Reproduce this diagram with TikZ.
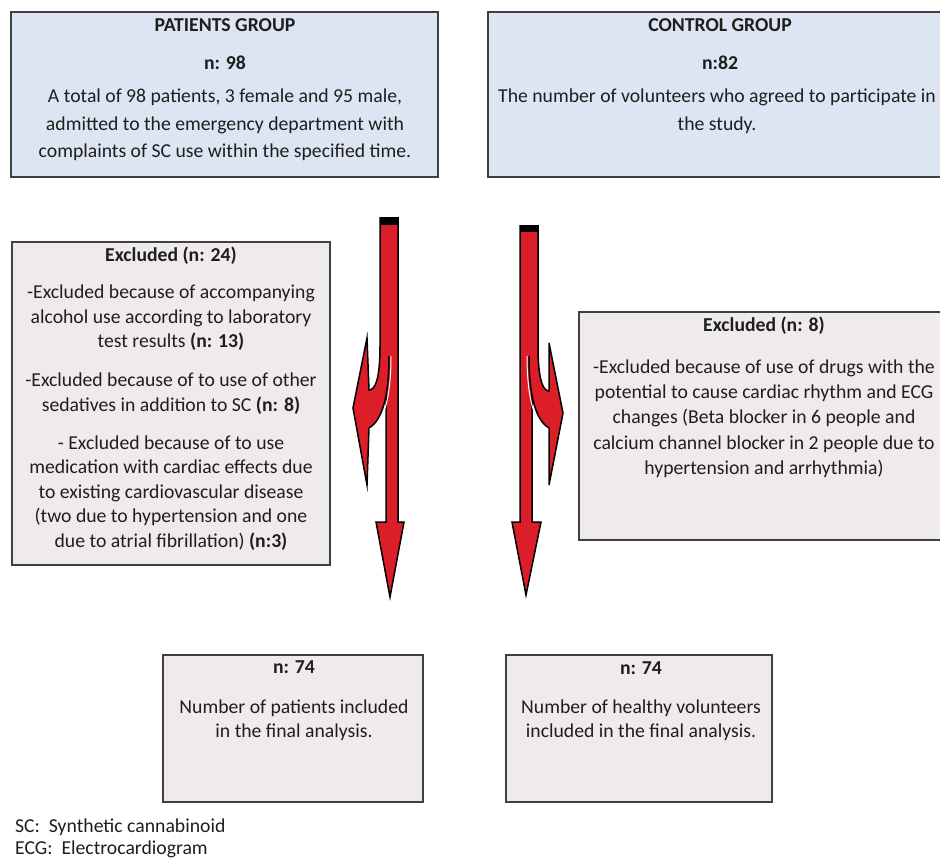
\documentclass[tikz,border=0pt]{standalone}
\usepackage{fontspec}
\setmainfont{Carlito}
\definecolor{bluebox}{RGB}{220,229,241}
\definecolor{greybox}{RGB}{239,235,235}
\definecolor{boxline}{RGB}{64,64,64}
\definecolor{txtcol}{RGB}{30,30,30}
\definecolor{arrowred}{RGB}{220,30,40}
\begin{document}
\begin{tikzpicture}[x=1pt,y=-1pt,
  panel/.style={draw=boxline, line width=1.4pt, inner sep=0pt, rectangle},
  bluepanel/.style={panel, fill=bluebox},
  greypanel/.style={panel, fill=greybox},
  lbl/.style={font=\fontsize{19.7}{24.5}\selectfont, text=txtcol, align=center, inner sep=0pt},
  lblwide/.style={lbl, font=\fontsize{19.7}{27.5}\selectfont},
  lblmid/.style={lbl, font=\fontsize{19.7}{25.3}\selectfont},
  ttl/.style={lbl, font=\fontsize{19.7}{24.5}\selectfont\bfseries},
  redarrow/.style={fill=arrowred},
  arrowedge/.style={draw=black, line width=1.5pt, line join=miter},
]
\useasboundingbox (0,0) rectangle (940,861);
\clip (0,0) rectangle (940,861);
\fill[white] (0,0) rectangle (940,861);

% ---------- boxes ----------
\node[bluepanel, minimum width=427pt, minimum height=165pt] (pat) at (224.5,94.5) {};
\node[bluepanel, minimum width=464pt, minimum height=165pt] (ctl) at (720,94.5) {};
\node[greypanel, minimum width=318pt, minimum height=323pt] (exl) at (171,403.5) {};
\node[greypanel, minimum width=371pt, minimum height=228pt] (exr) at (764.5,426) {};
\node[greypanel, minimum width=260pt, minimum height=147pt] (finl) at (293,728.5) {};
\node[greypanel, minimum width=266pt, minimum height=147pt] (finr) at (639,728.5) {};

% ---------- texts: patients ----------
\node[ttl] (patT) at (225,25) {PATIENTS GROUP};
\node[ttl] (patN) at (225,63) {n: 98};
\node[lblwide] (patP) at (225,125) {A total of 98 patients, 3 female and 95 male,\\admitted to the emergency department with\\complaints of SC use within the specified time.};

% ---------- texts: control ----------
\node[ttl] (ctlT) at (720,25) {CONTROL GROUP};
\node[ttl] (ctlN) at (720,63) {n:82};
\node[lblwide] (ctlP) at (717,111) {The number of volunteers who agreed to participate in\\the study.};

% ---------- texts: excluded left ----------
\node[ttl] (exlT) at (171,256) {Excluded (n: 24)};
\node[lbl] (exlA) at (171,318) {-Excluded because of accompanying\\alcohol use according to laboratory\\test results \textbf{(n: 13)}};
\node[lbl] (exlB) at (171,393.5) {-Excluded because of to use of other\\sedatives in addition to SC \textbf{(n: 8)}};
\node[lbl] (exlC) at (171,493) {- Excluded because of to use\\medication with cardiac effects due\\to existing cardiovascular disease\\(two due to hypertension and one\\due to atrial fibrillation) \textbf{(n:3)}};

% ---------- texts: excluded right ----------
\node[ttl] (exrT) at (764,326) {Excluded (n: 8)};
\node[lblmid] (exrP) at (764,418.5) {-Excluded because of use of drugs with the\\potential to cause cardiac rhythm and ECG\\changes (Beta blocker in 6 people and\\calcium channel blocker in 2 people due to\\hypertension and arrhythmia)};

% ---------- texts: final ----------
\node[ttl] (finlN) at (294,667) {n: 74};
\node[lbl] (finlP) at (294,720) {Number of patients included\\in the final analysis.};
\node[ttl] (finrN) at (641,668) {n: 74};
\node[lbl] (finrP) at (641,720) {Number of healthy volunteers\\included in the final analysis.};

% ---------- footnotes ----------
\node[lbl, anchor=west] (fn1) at (15,827) {SC:\ \ Synthetic cannabinoid};
\node[lbl, anchor=west] (fn2) at (15,849) {ECG:\ \ Electrocardiogram};

% ---------- left split arrow ----------
\path[redarrow] (380,218) -- (398,218) -- (398,522) -- (404,522) -- (390,597) -- (376,522) -- (386,522) -- (386,360) -- (380,350) -- cycle;
\draw[arrowedge] (380,218) -- (398,218) -- (398,522) -- (404,522) -- (390,597) -- (376,522) -- (386,522) -- (386,360) -- (380,350) -- cycle;
\fill[black] (380,218) rectangle (398,225);
\path[redarrow] (380,346) .. controls (380,380) and (375,390) .. (369,390) -- (367,338) -- (353,408) -- (367,485) -- (369,428) .. controls (381,421) and (389,400) .. (389,346) -- cycle;
\draw[arrowedge] (380,346) .. controls (380,380) and (375,390) .. (369,390) -- (367,338) -- (353,408) -- (367,485) -- (369,428) .. controls (381,421) and (389,400) .. (389,356);
\draw[white, line width=1pt] (370,432) .. controls (382,425) and (391,402) .. (391,356);

% ---------- right split arrow ----------
\path[redarrow] (520,226) -- (538,226) -- (538,350) -- (532,360) -- (532,522) -- (541,522) -- (526,595) -- (512,522) -- (520,522) -- cycle;
\draw[arrowedge] (520,226) -- (538,226) -- (538,350) -- (532,360) -- (532,522) -- (541,522) -- (526,595) -- (512,522) -- (520,522) -- cycle;
\fill[black] (520,226) rectangle (538,232);
\path[redarrow] (538,346) .. controls (538,380) and (543,391) .. (549,391) -- (549,343) -- (563,413) -- (549,485) -- (549,428) .. controls (537,421) and (529,400) .. (529,346) -- cycle;
\draw[arrowedge] (538,346) .. controls (538,380) and (543,391) .. (549,391) -- (549,343) -- (563,413) -- (549,485) -- (549,428) .. controls (537,421) and (529,400) .. (529,356);
\draw[white, line width=1pt] (548,432) .. controls (536,425) and (527,402) .. (527,356);
\end{tikzpicture}
\end{document}
